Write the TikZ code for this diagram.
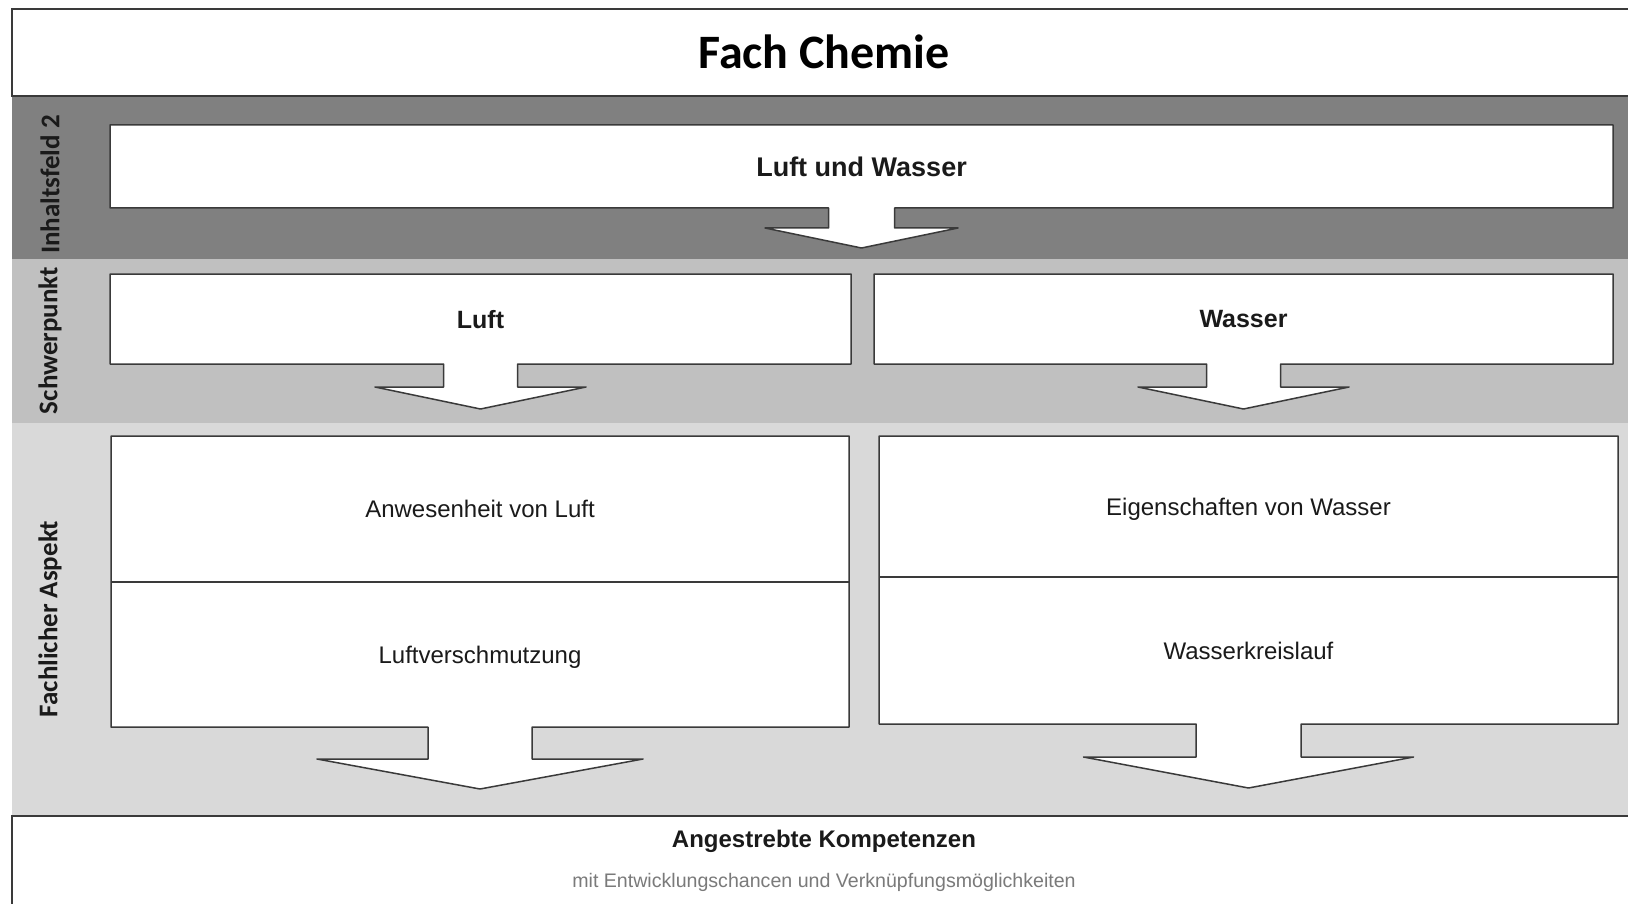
\documentclass[tikz,border=0pt]{standalone}
\usepackage{fontspec}
\setmainfont{Liberation Sans}
\newfontfamily\sidefont{Carlito}
\usetikzlibrary{calc}
\pgfdeclarelayer{bands}
\pgfdeclarelayer{shapes}
\pgfsetlayers{bands,shapes,main}

\definecolor{bandA}{HTML}{808080}
\definecolor{bandB}{HTML}{C0C0C0}
\definecolor{bandC}{HTML}{D9D9D9}
\definecolor{edge}{HTML}{3A3A3A}
\definecolor{ink}{HTML}{1A1A1A}
\definecolor{subink}{HTML}{7A7A7A}

\tikzset{
  cell/.style={inner sep=0pt, outer sep=0pt, text=ink, text depth=0pt},
  headtext/.style={cell, font=\bfseries\fontsize{25}{28}\selectfont},
  celltext/.style={cell, font=\fontsize{24}{27}\selectfont},
  sidelabel/.style={inner sep=0pt, rotate=90, text=ink, font=\sidefont\bfseries\fontsize{27}{29}\selectfont},
  outline/.style={draw=edge, line width=1.5pt, fill=white, line join=round},
  frame/.style={draw=edge, line width=1.5pt},
}

% #1 box node (or upper cell), #2 lower node, #3 stem half width, #4 stem length,
% #5 head half width, #6 head length: white box with a block arrow pointing down
\newcommand{\arrowbox}[6]{%
  \draw[outline] (#1.north west) -- (#1.north east) -- (#2.south east)
    -- ([xshift=#3pt]#2.south)
    -- ([xshift=#3pt, yshift=-#4pt]#2.south)
    -- ([xshift=#5pt, yshift=-#4pt]#2.south)
    -- ([yshift={-(#4+#6)*1pt}]#2.south)
    -- ([xshift=-#5pt, yshift=-#4pt]#2.south)
    -- ([xshift=-#3pt, yshift=-#4pt]#2.south)
    -- ([xshift=-#3pt]#2.south)
    -- (#2.south west) -- cycle;
}

\begin{document}
\begin{tikzpicture}[x=1pt, y=-1pt]
\useasboundingbox (0,0) rectangle (1628,904);

% horizontal bands
\begin{pgfonlayer}{bands}
  \fill[white] (0,0) rectangle (1628,904);
  \fill[bandA] (12,96) rectangle (1628,259);
  \fill[bandB] (12,259) rectangle (1628,423);
  \fill[bandC] (12,423) rectangle (1628,816);
\end{pgfonlayer}

% title and bottom frames
\node[cell, minimum width=1616pt, minimum height=87pt] (titlebox) at (820,52.5) {};
\node[cell, text=black, font=\sidefont\bfseries\fontsize{48}{52}\selectfont] (title) at (824,52) {Fach Chemie};
\draw[frame] (titlebox.north east) -- (titlebox.north west) -- (titlebox.south west) -- (titlebox.south east);

\node[cell, minimum width=1616pt, minimum height=88pt] (goalbox) at (820,860) {};
\draw[frame] (goalbox.south west) -- (goalbox.north west) -- (goalbox.north east);
\node[cell, font=\bfseries\fontsize{24}{27}\selectfont] (goal) at (824,839) {Angestrebte Kompetenzen};
\node[cell, text=subink, font=\fontsize{19.6}{23}\selectfont] (goalsub) at (824,880) {mit Entwicklungschancen und Verknüpfungsmöglichkeiten};

% side labels
\node[sidelabel] (lblA) at (50,184.5) {Inhaltsfeld 2};
\node[sidelabel] (lblB) at (50,340.5) {Schwerpunkt};
\node[sidelabel] (lblC) at (50,619) {Fachlicher Aspekt};

% content field
\node[headtext, font=\bfseries\fontsize{27}{30}\selectfont, minimum width=1503pt, minimum height=83pt] (field) at (861.5,166.5) {Luft und Wasser};

% focus boxes
\node[headtext, minimum width=741pt, minimum height=90pt] (luft) at (480.5,319) {Luft};
\node[headtext, minimum width=739pt, minimum height=90pt] (wasser) at (1243.5,319) {Wasser};

% subject aspects
\node[celltext, minimum width=738pt, minimum height=146pt] (luftA) at (480,509) {Anwesenheit von Luft};
\node[celltext, minimum width=738pt, minimum height=145pt, anchor=north] (luftB) at (luftA.south) {Luftverschmutzung};
\node[celltext, minimum width=739pt, minimum height=141pt] (wasA) at (1248.5,506.5) {Eigenschaften von Wasser};
\node[celltext, minimum width=739pt, minimum height=147pt, anchor=north] (wasB) at (wasA.south) {Wasserkreislauf};

\begin{pgfonlayer}{shapes}
  \arrowbox{field}{field}{33}{20}{96.5}{20}
  \arrowbox{luft}{luft}{37}{23}{105.5}{22}
  \arrowbox{wasser}{wasser}{37}{23}{105.5}{22}
  \arrowbox{luftA}{luftB}{52}{32}{163}{30}
  \arrowbox{wasA}{wasB}{52.5}{33}{165}{31}
  \draw[frame] (luftA.south west) -- (luftA.south east);
  \draw[frame] (wasA.south west) -- (wasA.south east);
\end{pgfonlayer}
\end{tikzpicture}
\end{document}
